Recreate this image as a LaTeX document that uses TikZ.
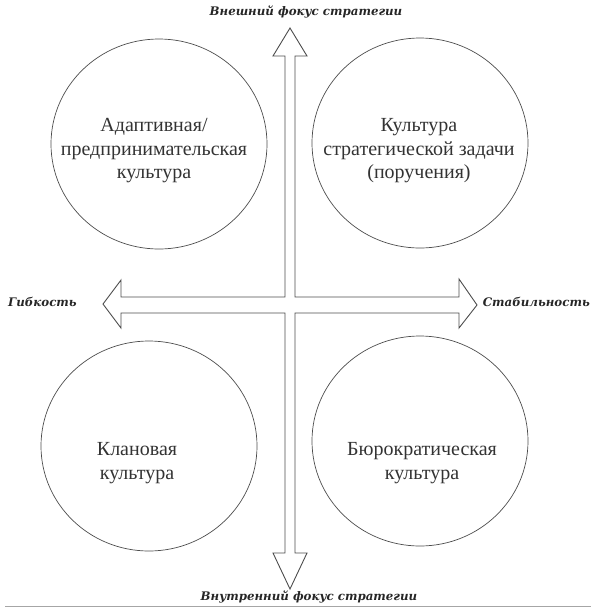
\documentclass[tikz,border=0pt]{standalone}
\usepackage{fontspec}
\setmainfont{Liberation Serif}
\newfontfamily\axisfont{DejaVu Serif}
\usetikzlibrary{shapes.geometric}
\begin{document}
\begin{tikzpicture}[x=1pt,y=-1pt,
  circ/.style={draw=black!70, line width=0.7pt, ellipse, inner sep=0pt, minimum width=216pt, minimum height=210pt},
  lbl/.style={align=center, inner sep=0pt, text=black!80, font=\fontsize{20}{23.5}\selectfont},
  axislbl/.style={inner sep=0pt, text=black!85, font=\axisfont\bfseries\itshape\fontsize{11.8}{14}\selectfont},
  arrowline/.style={draw=black!70, line width=0.9pt, line join=miter}
]
\useasboundingbox (0,0) rectangle (600,614);
% circles
\node[circ] (c1) at (159,144) {};
\node[circ] (c2) at (420,143) {};
\node[circ] (c3) at (149,446) {};
\node[circ] (c4) at (420,441) {};
% circle texts
\node[lbl] (t1) at (154,151) {Адаптивная/\\предпринимательская\\культура};
\node[lbl] (t2) at (419,151) {Культура\\стратегической задачи\\(поручения)};
\node[lbl] (t3) at (137,463) {Клановая\\культура};
\node[lbl] (t4) at (422,463) {Бюрократическая\\культура};
% cross arrow
\draw[arrowline] (290,28) -- (307,56) -- (295,56) -- (295,297) -- (459,297) -- (459,279)
  -- (477,305) -- (459,328) -- (459,313) -- (295,313) -- (295,553) -- (307,553)
  -- (290,589) -- (273,553) -- (285,553) -- (285,313) -- (121,313) -- (121,328)
  -- (103,304) -- (121,280) -- (121,297) -- (285,297) -- (285,56) -- (273,56) -- cycle;
% axis labels
\node[axislbl] (ext) at (306,12) {Внешний фокус стратегии};
\node[axislbl, anchor=west] (flex) at (8,302) {Гибкость};
\node[axislbl, anchor=east] (stab) at (590,302) {Стабильность};
\node[axislbl] (int) at (309,597) {Внутренний фокус стратегии};
% bottom rule
\coordinate (ruleL) at (5,606);
\coordinate (ruleR) at (591,606);
\draw[black!35, line width=0.8pt] (ruleL) -- (ruleR);
\end{tikzpicture}
\end{document}
